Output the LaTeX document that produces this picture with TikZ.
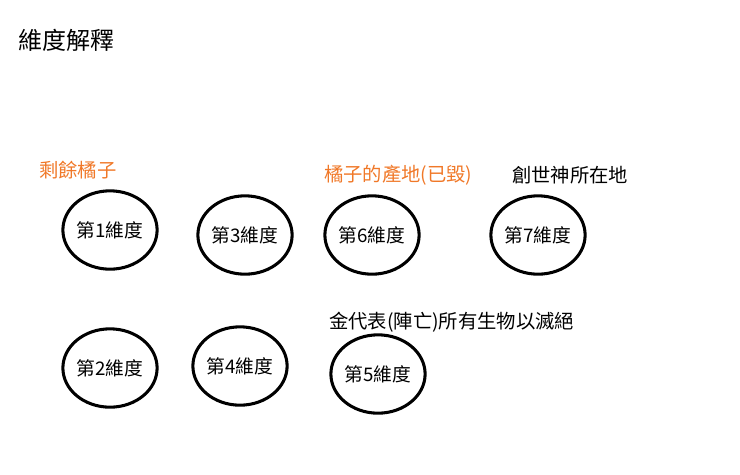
\documentclass[tikz,border=0pt]{standalone}
\usepackage{fontspec}
\setmainfont{Noto Sans CJK TC}
\usetikzlibrary{shapes.geometric}
\begin{document}
\begin{tikzpicture}[x=0.03cm,y=-0.03cm,
					dim/.style={draw,ellipse,line width=2.6pt,minimum width=2.45cm,minimum height=2.35cm,inner sep=0pt,font=\fontsize{16}{18}\selectfont},
					note/.style={anchor=west,font=\fontsize{16.5}{19}\selectfont},
					orange note/.style={note,text={rgb,255:red,240;green,120;blue,40}}]
					\useasboundingbox (0,0) rectangle (740,474);
					\node[anchor=west,font=\fontsize{20.5}{23}\selectfont] (title) at (14,40) {維度解釋};
					\node[dim] (d1) at (110,230) {第1維度};
					\node[dim] (d3) at (245,235) {第3維度};
					\node[dim] (d6) at (372,235) {第6維度};
					\node[dim] (d7) at (538,235) {第7維度};
					\node[dim] (d2) at (110,368) {第2維度};
					\node[dim] (d4) at (240,366) {第4維度};
					\node[dim] (d5) at (378,374) {第5維度};
					\node[orange note] (orange) at (35,170) {剩餘橘子};
					\node[orange note] (origin) at (320,175) {橘子的產地(已毀)};
					\node[note] (creator) at (508,175) {創世神所在地};
					\node[note] (gold) at (325,322) {金代表(陣亡)所有生物以滅絕};
\end{tikzpicture}
\end{document}
